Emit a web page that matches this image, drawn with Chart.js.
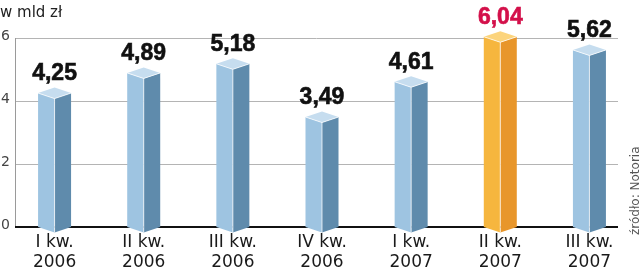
<!DOCTYPE html>
<html>
<head>
<meta charset="utf-8">
<script src="https://cdn.jsdelivr.net/npm/chart.js@4/dist/chart.umd.min.js"></script>
<style>
  body { margin: 0; background: #fff; }
</style>
</head>
<body>
<canvas id="kwChart" width="640" height="279"></canvas>
<script>
// quarterly values, w mld zł
const categories = [
  ["I kw.", "2006"], ["II kw.", "2006"], ["III kw.", "2006"], ["IV kw.", "2006"],
  ["I kw.", "2007"], ["II kw.", "2007"], ["III kw.", "2007"]
];
const values = [4.25, 4.89, 5.18, 3.49, 4.61, 6.04, 5.62];
const yTicks = [0, 2, 4, 6];
const highlightIndex = 5;

const unitText = "w mld zł";
const sourceText = "źródło: Notoria";

const blue = { left: "#9ec4e1", right: "#5f8bac", top: "#c6ddef" };
const orange = { left: "#f6b63e", right: "#e8962b", top: "#fcd47c" };

// grid, axis line and black baseline behind the bars
const gridPlugin = {
  id: "gridPlugin",
  beforeDatasetsDraw(chart) {
    const ctx = chart.ctx;
    const y = chart.scales.y;
    const x0 = 15, x1 = 618;
    ctx.save();
    ctx.strokeStyle = "#b4b4b4";
    ctx.lineWidth = 1;
    yTicks.forEach(t => {
      if (t === 0) return;
      const py = Math.round(y.getPixelForValue(t)) + 0.5;
      ctx.beginPath();
      ctx.moveTo(x0, py);
      ctx.lineTo(x1, py);
      ctx.stroke();
    });
    // vertical axis
    ctx.strokeStyle = "#9a9a9a";
    ctx.beginPath();
    ctx.moveTo(x0 + 0.5, Math.round(y.getPixelForValue(6)));
    ctx.lineTo(x0 + 0.5, y.getPixelForValue(0));
    ctx.stroke();
    // baseline
    ctx.strokeStyle = "#111";
    ctx.lineWidth = 2;
    ctx.beginPath();
    ctx.moveTo(x0, y.getPixelForValue(0));
    ctx.lineTo(x1, y.getPixelForValue(0));
    ctx.stroke();
    ctx.restore();
  }
};

// 3d-looking prisms + value labels
const prismPlugin = {
  id: "prismPlugin",
  afterDatasetsDraw(chart) {
    const ctx = chart.ctx;
    const meta = chart.getDatasetMeta(0);
    const h = 5.5;
    ctx.save();
    meta.data.forEach((bar, i) => {
      const c = i === highlightIndex ? orange : blue;
      const xc = bar.x;
      const xl = bar.x - bar.width / 2;
      const xr = bar.x + bar.width / 2;
      const top = bar.y;
      const base = bar.base;

      // left face
      ctx.fillStyle = c.left;
      ctx.beginPath();
      ctx.moveTo(xl, top);
      ctx.lineTo(xc, top + h);
      ctx.lineTo(xc, base + h);
      ctx.lineTo(xl, base);
      ctx.closePath();
      ctx.fill();
      // right face
      ctx.fillStyle = c.right;
      ctx.beginPath();
      ctx.moveTo(xc, top + h);
      ctx.lineTo(xr, top);
      ctx.lineTo(xr, base);
      ctx.lineTo(xc, base + h);
      ctx.closePath();
      ctx.fill();
      // top
      ctx.fillStyle = c.top;
      ctx.beginPath();
      ctx.moveTo(xl, top);
      ctx.lineTo(xc, top - h);
      ctx.lineTo(xr, top);
      ctx.lineTo(xc, top + h);
      ctx.closePath();
      ctx.fill();
      // light edges
      ctx.strokeStyle = "rgba(255,255,255,0.75)";
      ctx.lineWidth = 1;
      ctx.beginPath();
      ctx.moveTo(xl, top);
      ctx.lineTo(xc, top + h);
      ctx.lineTo(xr, top);
      ctx.moveTo(xc, top + h);
      ctx.lineTo(xc, base + h);
      ctx.stroke();

      // value label (a thin stroke makes it heavier)
      const col = i === highlightIndex ? "#d3104a" : "#111";
      const txt = values[i].toFixed(2).replace(".", ",");
      ctx.fillStyle = col;
      ctx.strokeStyle = col;
      ctx.lineWidth = 0.6;
      ctx.font = "bold 23px 'Liberation Sans', Arial, sans-serif";
      ctx.textAlign = "center";
      ctx.textBaseline = "alphabetic";
      ctx.fillText(txt, xc, top - 13);
      ctx.strokeText(txt, xc, top - 13);
    });
    ctx.restore();
  },
  afterDraw(chart) {
    const ctx = chart.ctx;
    ctx.save();
    ctx.fillStyle = "#222";
    ctx.font = "15px 'DejaVu Sans', sans-serif";
    ctx.textAlign = "left";
    ctx.textBaseline = "alphabetic";
    ctx.fillText(unitText, 0, 17);

    ctx.translate(636, 235);
    ctx.rotate(-Math.PI / 2);
    ctx.fillStyle = "#555";
    ctx.font = "12px 'DejaVu Sans', sans-serif";
    ctx.textBaseline = "middle";
    ctx.fillText(sourceText, 0, 0);
    ctx.restore();
  }
};

const ctx = document.getElementById("kwChart").getContext("2d");
const chart = new Chart(ctx, {
  type: "bar",
  data: {
    labels: categories,
    datasets: [{
      data: values,
      backgroundColor: "rgba(0,0,0,0)",
      barThickness: 33
    }]
  },
  options: {
    responsive: false,
    animation: false,
    layout: { padding: { top: 38, right: 6, left: 0, bottom: 1 } },
    plugins: { legend: { display: false }, tooltip: { enabled: false } },
    scales: {
      x: {
        grid: { display: false, drawTicks: false },
        border: { display: false },
        ticks: {
          color: "#1a1a1a",
          font: { family: "'DejaVu Sans', sans-serif", size: 17, lineHeight: 1.15 },
          padding: 6,
          maxRotation: 0,
          autoSkip: false
        }
      },
      y: {
        min: 0,
        max: 6,
        afterFit: s => { s.width = 10; },
        grid: { display: false, drawTicks: false },
        border: { display: false },
        ticks: {
          stepSize: 2,
          padding: 0,
          labelOffset: -2,
          color: "#444",
          font: { family: "'DejaVu Sans', sans-serif", size: 14 }
        }
      }
    }
  },
  plugins: [gridPlugin, prismPlugin]
});
</script>
</body>
</html>
